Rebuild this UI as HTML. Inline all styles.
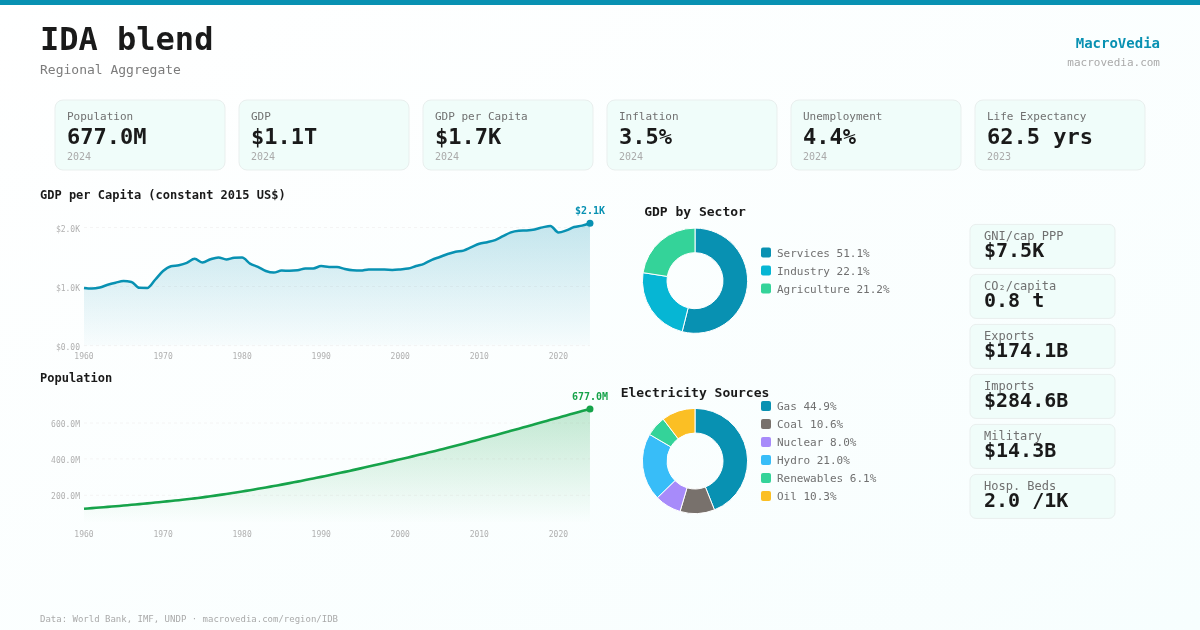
<!DOCTYPE html>
<html lang="en"><head><meta charset="utf-8"><title>IDA blend</title>
<style>
html,body{margin:0;padding:0;background:#fbfefe;}
body{width:1200px;height:630px;overflow:hidden;}
svg{display:block;font-family:"DejaVu Sans Mono", "Liberation Mono", monospace;}
.b{font-weight:700}
</style></head><body>
<svg width="1200" height="630" viewBox="0 0 1200 630">
<defs>
<linearGradient id="bg" x1="0" y1="0" x2="1" y2="1"><stop offset="0" stop-color="#ffffff"/><stop offset="1" stop-color="#f7fefe"/></linearGradient>
<linearGradient id="gb" x1="0" y1="0" x2="0" y2="1"><stop offset="0" stop-color="#0891b2" stop-opacity="0.23"/><stop offset="1" stop-color="#0891b2" stop-opacity="0.02"/></linearGradient>
<linearGradient id="gg" x1="0" y1="0" x2="0" y2="1"><stop offset="0" stop-color="#16a34a" stop-opacity="0.25"/><stop offset="1" stop-color="#16a34a" stop-opacity="0"/></linearGradient>
</defs>
<rect width="1200" height="630" fill="url(#bg)"/>
<rect width="1200" height="5" fill="#0891b2"/>
<text x="40" y="50" font-size="32" class="b" fill="#1a1a1a">IDA blend</text>
<text x="40" y="74" font-size="13" fill="#7b7b7b">Regional Aggregate</text>
<text x="1160" y="48" font-size="14" class="b" fill="#0891b2" text-anchor="end">MacroVedia</text>
<text x="1160" y="66" font-size="11" fill="#aaaaaa" text-anchor="end">macrovedia.com</text>

<rect x="55" y="100" width="170" height="70" rx="8" fill="#f0fdfa" stroke="#e9efee" stroke-width="1"/>
<text x="67" y="120" font-size="11" fill="#707070">Population</text>
<text x="67" y="144" font-size="22" class="b" fill="#1a1a1a">677.0M</text>
<text x="67" y="160" font-size="10" fill="#aaaaaa">2024</text>
<rect x="239" y="100" width="170" height="70" rx="8" fill="#f0fdfa" stroke="#e9efee" stroke-width="1"/>
<text x="251" y="120" font-size="11" fill="#707070">GDP</text>
<text x="251" y="144" font-size="22" class="b" fill="#1a1a1a">$1.1T</text>
<text x="251" y="160" font-size="10" fill="#aaaaaa">2024</text>
<rect x="423" y="100" width="170" height="70" rx="8" fill="#f0fdfa" stroke="#e9efee" stroke-width="1"/>
<text x="435" y="120" font-size="11" fill="#707070">GDP per Capita</text>
<text x="435" y="144" font-size="22" class="b" fill="#1a1a1a">$1.7K</text>
<text x="435" y="160" font-size="10" fill="#aaaaaa">2024</text>
<rect x="607" y="100" width="170" height="70" rx="8" fill="#f0fdfa" stroke="#e9efee" stroke-width="1"/>
<text x="619" y="120" font-size="11" fill="#707070">Inflation</text>
<text x="619" y="144" font-size="22" class="b" fill="#1a1a1a">3.5%</text>
<text x="619" y="160" font-size="10" fill="#aaaaaa">2024</text>
<rect x="791" y="100" width="170" height="70" rx="8" fill="#f0fdfa" stroke="#e9efee" stroke-width="1"/>
<text x="803" y="120" font-size="11" fill="#707070">Unemployment</text>
<text x="803" y="144" font-size="22" class="b" fill="#1a1a1a">4.4%</text>
<text x="803" y="160" font-size="10" fill="#aaaaaa">2024</text>
<rect x="975" y="100" width="170" height="70" rx="8" fill="#f0fdfa" stroke="#e9efee" stroke-width="1"/>
<text x="987" y="120" font-size="11" fill="#707070">Life Expectancy</text>
<text x="987" y="144" font-size="22" class="b" fill="#1a1a1a">62.5 yrs</text>
<text x="987" y="160" font-size="10" fill="#aaaaaa">2023</text>
<text x="40" y="199" font-size="12" class="b" fill="#1a1a1a">GDP per Capita (constant 2015 US$)</text>
<line x1="84" x2="590" y1="227.5" y2="227.5" stroke="#f4f4f4" stroke-width="1" stroke-dasharray="3,3"/>
<text x="80" y="231.6" font-size="8" fill="#b0b0b0" text-anchor="end">$2.0K</text>
<line x1="84" x2="590" y1="286.55" y2="286.55" stroke="#f4f4f4" stroke-width="1" stroke-dasharray="3,3"/>
<text x="80" y="290.7" font-size="8" fill="#b0b0b0" text-anchor="end">$1.0K</text>
<line x1="84" x2="590" y1="345.6" y2="345.6" stroke="#f4f4f4" stroke-width="1" stroke-dasharray="3,3"/>
<text x="80" y="349.7" font-size="8" fill="#b0b0b0" text-anchor="end">$0.00</text>
<text x="84.0" y="358.9" font-size="8" fill="#b0b0b0" text-anchor="middle">1960</text>
<text x="163.1" y="358.9" font-size="8" fill="#b0b0b0" text-anchor="middle">1970</text>
<text x="242.1" y="358.9" font-size="8" fill="#b0b0b0" text-anchor="middle">1980</text>
<text x="321.2" y="358.9" font-size="8" fill="#b0b0b0" text-anchor="middle">1990</text>
<text x="400.2" y="358.9" font-size="8" fill="#b0b0b0" text-anchor="middle">2000</text>
<text x="479.3" y="358.9" font-size="8" fill="#b0b0b0" text-anchor="middle">2010</text>
<text x="558.4" y="358.9" font-size="8" fill="#b0b0b0" text-anchor="middle">2020</text>
<path d="M84.00,287.90C86.64,288.23 89.27,288.55 91.91,288.55C94.54,288.55 97.18,288.13 99.81,287.50C102.45,286.87 105.08,285.55 107.72,284.75C110.35,283.95 112.99,283.31 115.62,282.70C118.26,282.09 120.89,281.10 123.53,281.10C126.17,281.10 128.80,281.37 131.44,281.90C134.07,282.43 136.71,287.75 139.34,287.85C141.98,287.95 144.61,288.00 147.25,288.00C149.88,288.00 152.52,282.58 155.15,279.75C157.79,276.92 160.42,273.26 163.06,271.00C165.70,268.74 168.33,266.87 170.97,266.20C173.60,265.53 176.24,265.75 178.87,265.20C181.51,264.65 184.14,263.97 186.78,262.90C189.41,261.83 192.05,258.80 194.68,258.80C197.32,258.80 199.95,262.50 202.59,262.50C205.23,262.50 207.86,260.05 210.50,259.20C213.13,258.35 215.77,257.40 218.40,257.40C221.04,257.40 223.67,259.50 226.31,259.50C228.94,259.50 231.58,257.93 234.21,257.80C236.85,257.67 239.48,257.60 242.12,257.60C244.76,257.60 247.39,262.05 250.03,263.60C252.66,265.15 255.30,265.67 257.93,266.90C260.57,268.13 263.20,270.05 265.84,271.00C268.47,271.95 271.11,272.60 273.74,272.60C276.38,272.60 279.01,270.60 281.65,270.60C284.29,270.60 286.92,270.70 289.56,270.70C292.19,270.70 294.83,270.57 297.46,270.30C300.10,270.03 302.73,268.57 305.37,268.50C308.00,268.43 310.64,268.47 313.27,268.40C315.91,268.33 318.54,266.10 321.18,266.10C323.82,266.10 326.45,266.90 329.09,266.90C331.72,266.90 334.36,266.90 336.99,266.90C339.63,266.90 342.26,268.43 344.90,269.00C347.53,269.57 350.17,270.10 352.80,270.30C355.44,270.50 358.07,270.60 360.71,270.60C363.35,270.60 365.98,269.40 368.62,269.40C371.25,269.40 373.89,269.60 376.52,269.60C379.16,269.60 381.79,269.60 384.43,269.60C387.06,269.60 389.70,269.90 392.33,269.90C394.97,269.90 397.60,269.62 400.24,269.40C402.88,269.18 405.51,269.13 408.15,268.60C410.78,268.07 413.42,266.80 416.05,266.00C418.69,265.20 421.32,264.83 423.96,263.80C426.59,262.77 429.23,260.93 431.86,259.80C434.50,258.67 437.13,257.97 439.77,257.00C442.41,256.03 445.04,254.88 447.68,254.00C450.31,253.12 452.95,252.27 455.58,251.70C458.22,251.13 460.85,251.33 463.49,250.60C466.12,249.87 468.76,248.33 471.39,247.20C474.03,246.07 476.66,244.63 479.30,243.80C481.94,242.97 484.57,242.82 487.21,242.20C489.84,241.58 492.48,241.10 495.11,240.10C497.75,239.10 500.38,237.48 503.02,236.20C505.65,234.92 508.29,233.30 510.92,232.40C513.56,231.50 516.19,231.07 518.83,230.80C521.47,230.53 524.10,230.63 526.74,230.40C529.37,230.17 532.01,229.90 534.64,229.40C537.28,228.90 539.91,227.98 542.55,227.40C545.18,226.82 547.82,225.90 550.45,225.90C553.09,225.90 555.72,232.40 558.36,232.40C561.00,232.40 563.63,231.30 566.27,230.40C568.90,229.50 571.54,227.80 574.17,227.00C576.81,226.20 579.44,226.23 582.08,225.60C584.71,224.97 587.35,224.08 589.98,223.20L589.98,345.6L84,345.6Z" fill="url(#gb)"/>
<path d="M84.00,287.90C86.64,288.23 89.27,288.55 91.91,288.55C94.54,288.55 97.18,288.13 99.81,287.50C102.45,286.87 105.08,285.55 107.72,284.75C110.35,283.95 112.99,283.31 115.62,282.70C118.26,282.09 120.89,281.10 123.53,281.10C126.17,281.10 128.80,281.37 131.44,281.90C134.07,282.43 136.71,287.75 139.34,287.85C141.98,287.95 144.61,288.00 147.25,288.00C149.88,288.00 152.52,282.58 155.15,279.75C157.79,276.92 160.42,273.26 163.06,271.00C165.70,268.74 168.33,266.87 170.97,266.20C173.60,265.53 176.24,265.75 178.87,265.20C181.51,264.65 184.14,263.97 186.78,262.90C189.41,261.83 192.05,258.80 194.68,258.80C197.32,258.80 199.95,262.50 202.59,262.50C205.23,262.50 207.86,260.05 210.50,259.20C213.13,258.35 215.77,257.40 218.40,257.40C221.04,257.40 223.67,259.50 226.31,259.50C228.94,259.50 231.58,257.93 234.21,257.80C236.85,257.67 239.48,257.60 242.12,257.60C244.76,257.60 247.39,262.05 250.03,263.60C252.66,265.15 255.30,265.67 257.93,266.90C260.57,268.13 263.20,270.05 265.84,271.00C268.47,271.95 271.11,272.60 273.74,272.60C276.38,272.60 279.01,270.60 281.65,270.60C284.29,270.60 286.92,270.70 289.56,270.70C292.19,270.70 294.83,270.57 297.46,270.30C300.10,270.03 302.73,268.57 305.37,268.50C308.00,268.43 310.64,268.47 313.27,268.40C315.91,268.33 318.54,266.10 321.18,266.10C323.82,266.10 326.45,266.90 329.09,266.90C331.72,266.90 334.36,266.90 336.99,266.90C339.63,266.90 342.26,268.43 344.90,269.00C347.53,269.57 350.17,270.10 352.80,270.30C355.44,270.50 358.07,270.60 360.71,270.60C363.35,270.60 365.98,269.40 368.62,269.40C371.25,269.40 373.89,269.60 376.52,269.60C379.16,269.60 381.79,269.60 384.43,269.60C387.06,269.60 389.70,269.90 392.33,269.90C394.97,269.90 397.60,269.62 400.24,269.40C402.88,269.18 405.51,269.13 408.15,268.60C410.78,268.07 413.42,266.80 416.05,266.00C418.69,265.20 421.32,264.83 423.96,263.80C426.59,262.77 429.23,260.93 431.86,259.80C434.50,258.67 437.13,257.97 439.77,257.00C442.41,256.03 445.04,254.88 447.68,254.00C450.31,253.12 452.95,252.27 455.58,251.70C458.22,251.13 460.85,251.33 463.49,250.60C466.12,249.87 468.76,248.33 471.39,247.20C474.03,246.07 476.66,244.63 479.30,243.80C481.94,242.97 484.57,242.82 487.21,242.20C489.84,241.58 492.48,241.10 495.11,240.10C497.75,239.10 500.38,237.48 503.02,236.20C505.65,234.92 508.29,233.30 510.92,232.40C513.56,231.50 516.19,231.07 518.83,230.80C521.47,230.53 524.10,230.63 526.74,230.40C529.37,230.17 532.01,229.90 534.64,229.40C537.28,228.90 539.91,227.98 542.55,227.40C545.18,226.82 547.82,225.90 550.45,225.90C553.09,225.90 555.72,232.40 558.36,232.40C561.00,232.40 563.63,231.30 566.27,230.40C568.90,229.50 571.54,227.80 574.17,227.00C576.81,226.20 579.44,226.23 582.08,225.60C584.71,224.97 587.35,224.08 589.98,223.20" fill="none" stroke="#0891b2" stroke-width="2.5" stroke-linejoin="round" stroke-linecap="butt"/>
<circle cx="589.98" cy="223.2" r="3.5" fill="#0891b2"/>
<text x="590" y="214.4" font-size="10" class="b" fill="#0891b2" text-anchor="middle">$2.1K</text>
<text x="40" y="382" font-size="12" class="b" fill="#1a1a1a">Population</text>
<line x1="84" x2="590" y1="423" y2="423" stroke="#f4f4f4" stroke-width="1" stroke-dasharray="3,3"/>
<text x="80" y="427.1" font-size="8" fill="#b0b0b0" text-anchor="end">600.0M</text>
<line x1="84" x2="590" y1="458.9" y2="458.9" stroke="#f4f4f4" stroke-width="1" stroke-dasharray="3,3"/>
<text x="80" y="463.0" font-size="8" fill="#b0b0b0" text-anchor="end">400.0M</text>
<line x1="84" x2="590" y1="495.3" y2="495.3" stroke="#f4f4f4" stroke-width="1" stroke-dasharray="3,3"/>
<text x="80" y="499.4" font-size="8" fill="#b0b0b0" text-anchor="end">200.0M</text>
<text x="84.0" y="536.8" font-size="8" fill="#b0b0b0" text-anchor="middle">1960</text>
<text x="163.1" y="536.8" font-size="8" fill="#b0b0b0" text-anchor="middle">1970</text>
<text x="242.1" y="536.8" font-size="8" fill="#b0b0b0" text-anchor="middle">1980</text>
<text x="321.2" y="536.8" font-size="8" fill="#b0b0b0" text-anchor="middle">1990</text>
<text x="400.2" y="536.8" font-size="8" fill="#b0b0b0" text-anchor="middle">2000</text>
<text x="479.3" y="536.8" font-size="8" fill="#b0b0b0" text-anchor="middle">2010</text>
<text x="558.4" y="536.8" font-size="8" fill="#b0b0b0" text-anchor="middle">2020</text>
<path d="M84.00,508.70C86.64,508.51 89.27,508.33 91.91,508.13C94.54,507.94 97.18,507.74 99.81,507.53C102.45,507.33 105.08,507.11 107.72,506.90C110.35,506.68 112.99,506.46 115.62,506.23C118.26,506.01 120.89,505.78 123.53,505.54C126.17,505.31 128.80,505.07 131.44,504.83C134.07,504.59 136.71,504.34 139.34,504.10C141.98,503.85 144.61,503.60 147.25,503.34C149.88,503.09 152.52,502.83 155.15,502.58C157.79,502.32 160.42,502.06 163.06,501.79C165.70,501.53 168.33,501.27 170.97,501.00C173.60,500.73 176.24,500.45 178.87,500.17C181.51,499.89 184.14,499.60 186.78,499.30C189.41,499.00 192.05,498.69 194.68,498.37C197.32,498.05 199.95,497.71 202.59,497.37C205.23,497.02 207.86,496.66 210.50,496.29C213.13,495.92 215.77,495.54 218.40,495.15C221.04,494.76 223.67,494.37 226.31,493.96C228.94,493.56 231.58,493.16 234.21,492.74C236.85,492.33 239.48,491.91 242.12,491.48C244.76,491.05 247.39,490.62 250.03,490.18C252.66,489.74 255.30,489.29 257.93,488.84C260.57,488.39 263.20,487.93 265.84,487.46C268.47,487.00 271.11,486.53 273.74,486.05C276.38,485.58 279.01,485.09 281.65,484.61C284.29,484.12 286.92,483.62 289.56,483.13C292.19,482.63 294.83,482.12 297.46,481.61C300.10,481.10 302.73,480.58 305.37,480.06C308.00,479.54 310.64,479.02 313.27,478.48C315.91,477.95 318.54,477.42 321.18,476.87C323.82,476.33 326.45,475.79 329.09,475.23C331.72,474.68 334.36,474.12 336.99,473.56C339.63,473.00 342.26,472.43 344.90,471.86C347.53,471.29 350.17,470.72 352.80,470.14C355.44,469.56 358.07,468.97 360.71,468.38C363.35,467.79 365.98,467.20 368.62,466.60C371.25,466.00 373.89,465.40 376.52,464.79C379.16,464.19 381.79,463.58 384.43,462.97C387.06,462.35 389.70,461.74 392.33,461.12C394.97,460.51 397.60,459.89 400.24,459.27C402.88,458.66 405.51,458.04 408.15,457.42C410.78,456.80 413.42,456.18 416.05,455.55C418.69,454.92 421.32,454.29 423.96,453.66C426.59,453.02 429.23,452.38 431.86,451.73C434.50,451.08 437.13,450.42 439.77,449.76C442.41,449.10 445.04,448.43 447.68,447.76C450.31,447.08 452.95,446.40 455.58,445.72C458.22,445.04 460.85,444.35 463.49,443.65C466.12,442.96 468.76,442.26 471.39,441.56C474.03,440.86 476.66,440.15 479.30,439.44C481.94,438.74 484.57,438.02 487.21,437.31C489.84,436.59 492.48,435.88 495.11,435.16C497.75,434.44 500.38,433.72 503.02,432.99C505.65,432.27 508.29,431.55 510.92,430.82C513.56,430.09 516.19,429.36 518.83,428.63C521.47,427.90 524.10,427.17 526.74,426.44C529.37,425.71 532.01,424.98 534.64,424.24C537.28,423.51 539.91,422.78 542.55,422.04C545.18,421.31 547.82,420.57 550.45,419.84C553.09,419.11 555.72,418.37 558.36,417.64C561.00,416.91 563.63,416.18 566.27,415.45C568.90,414.72 571.54,413.99 574.17,413.26C576.81,412.53 579.44,411.80 582.08,411.08C584.71,410.35 587.35,409.63 589.98,408.90L589.98,523.4L84,523.4Z" fill="url(#gg)"/>
<path d="M84.00,508.70C86.64,508.51 89.27,508.33 91.91,508.13C94.54,507.94 97.18,507.74 99.81,507.53C102.45,507.33 105.08,507.11 107.72,506.90C110.35,506.68 112.99,506.46 115.62,506.23C118.26,506.01 120.89,505.78 123.53,505.54C126.17,505.31 128.80,505.07 131.44,504.83C134.07,504.59 136.71,504.34 139.34,504.10C141.98,503.85 144.61,503.60 147.25,503.34C149.88,503.09 152.52,502.83 155.15,502.58C157.79,502.32 160.42,502.06 163.06,501.79C165.70,501.53 168.33,501.27 170.97,501.00C173.60,500.73 176.24,500.45 178.87,500.17C181.51,499.89 184.14,499.60 186.78,499.30C189.41,499.00 192.05,498.69 194.68,498.37C197.32,498.05 199.95,497.71 202.59,497.37C205.23,497.02 207.86,496.66 210.50,496.29C213.13,495.92 215.77,495.54 218.40,495.15C221.04,494.76 223.67,494.37 226.31,493.96C228.94,493.56 231.58,493.16 234.21,492.74C236.85,492.33 239.48,491.91 242.12,491.48C244.76,491.05 247.39,490.62 250.03,490.18C252.66,489.74 255.30,489.29 257.93,488.84C260.57,488.39 263.20,487.93 265.84,487.46C268.47,487.00 271.11,486.53 273.74,486.05C276.38,485.58 279.01,485.09 281.65,484.61C284.29,484.12 286.92,483.62 289.56,483.13C292.19,482.63 294.83,482.12 297.46,481.61C300.10,481.10 302.73,480.58 305.37,480.06C308.00,479.54 310.64,479.02 313.27,478.48C315.91,477.95 318.54,477.42 321.18,476.87C323.82,476.33 326.45,475.79 329.09,475.23C331.72,474.68 334.36,474.12 336.99,473.56C339.63,473.00 342.26,472.43 344.90,471.86C347.53,471.29 350.17,470.72 352.80,470.14C355.44,469.56 358.07,468.97 360.71,468.38C363.35,467.79 365.98,467.20 368.62,466.60C371.25,466.00 373.89,465.40 376.52,464.79C379.16,464.19 381.79,463.58 384.43,462.97C387.06,462.35 389.70,461.74 392.33,461.12C394.97,460.51 397.60,459.89 400.24,459.27C402.88,458.66 405.51,458.04 408.15,457.42C410.78,456.80 413.42,456.18 416.05,455.55C418.69,454.92 421.32,454.29 423.96,453.66C426.59,453.02 429.23,452.38 431.86,451.73C434.50,451.08 437.13,450.42 439.77,449.76C442.41,449.10 445.04,448.43 447.68,447.76C450.31,447.08 452.95,446.40 455.58,445.72C458.22,445.04 460.85,444.35 463.49,443.65C466.12,442.96 468.76,442.26 471.39,441.56C474.03,440.86 476.66,440.15 479.30,439.44C481.94,438.74 484.57,438.02 487.21,437.31C489.84,436.59 492.48,435.88 495.11,435.16C497.75,434.44 500.38,433.72 503.02,432.99C505.65,432.27 508.29,431.55 510.92,430.82C513.56,430.09 516.19,429.36 518.83,428.63C521.47,427.90 524.10,427.17 526.74,426.44C529.37,425.71 532.01,424.98 534.64,424.24C537.28,423.51 539.91,422.78 542.55,422.04C545.18,421.31 547.82,420.57 550.45,419.84C553.09,419.11 555.72,418.37 558.36,417.64C561.00,416.91 563.63,416.18 566.27,415.45C568.90,414.72 571.54,413.99 574.17,413.26C576.81,412.53 579.44,411.80 582.08,411.08C584.71,410.35 587.35,409.63 589.98,408.90" fill="none" stroke="#16a34a" stroke-width="2.6" stroke-linejoin="round" stroke-linecap="butt"/>
<circle cx="589.98" cy="408.90" r="3.5" fill="#16a34a"/>
<text x="590" y="400" font-size="10" class="b" fill="#16a34a" text-anchor="middle">677.0M</text>
<text x="695" y="216" font-size="13" class="b" fill="#1a1a1a" text-anchor="middle">GDP by Sector</text>
<path d="M695.00,228.10A52.6,52.6 0 1 1 682.13,331.70L688.15,307.85A28.0,28.0 0 1 0 695.00,252.70Z" fill="#0891b2" stroke="#ffffff" stroke-width="1"/>
<path d="M682.13,331.70A52.6,52.6 0 0 1 643.02,272.67L667.33,276.43A28.0,28.0 0 0 0 688.15,307.85Z" fill="#06b6d4" stroke="#ffffff" stroke-width="1"/>
<path d="M643.02,272.67A52.6,52.6 0 0 1 695.00,228.10L695.00,252.70A28.0,28.0 0 0 0 667.33,276.43Z" fill="#34d399" stroke="#ffffff" stroke-width="1"/>
<rect x="761" y="247.6" width="10" height="10" rx="2" fill="#0891b2"/>
<text x="777" y="256.7" font-size="11" fill="#707070">Services 51.1%</text>
<rect x="761" y="265.6" width="10" height="10" rx="2" fill="#06b6d4"/>
<text x="777" y="274.7" font-size="11" fill="#707070">Industry 22.1%</text>
<rect x="761" y="283.6" width="10" height="10" rx="2" fill="#34d399"/>
<text x="777" y="292.7" font-size="11" fill="#707070">Agriculture 21.2%</text>
<text x="695" y="396.5" font-size="13" class="b" fill="#1a1a1a" text-anchor="middle">Electricity Sources</text>
<path d="M695.00,408.40A52.6,52.6 0 0 1 714.46,509.87L705.36,487.01A28.0,28.0 0 0 0 695.00,433.00Z" fill="#0891b2" stroke="#ffffff" stroke-width="1"/>
<path d="M714.46,509.87A52.6,52.6 0 0 1 680.04,511.43L687.03,487.84A28.0,28.0 0 0 0 705.36,487.01Z" fill="#78716c" stroke="#ffffff" stroke-width="1"/>
<path d="M680.04,511.43A52.6,52.6 0 0 1 657.37,497.76L674.97,480.57A28.0,28.0 0 0 0 687.03,487.84Z" fill="#a78bfa" stroke="#ffffff" stroke-width="1"/>
<path d="M657.37,497.76A52.6,52.6 0 0 1 649.59,434.45L670.83,446.87A28.0,28.0 0 0 0 674.97,480.57Z" fill="#38bdf8" stroke="#ffffff" stroke-width="1"/>
<path d="M649.59,434.45A52.6,52.6 0 0 1 663.20,419.10L678.07,438.70A28.0,28.0 0 0 0 670.83,446.87Z" fill="#34d399" stroke="#ffffff" stroke-width="1"/>
<path d="M663.20,419.10A52.6,52.6 0 0 1 695.00,408.40L695.00,433.00A28.0,28.0 0 0 0 678.07,438.70Z" fill="#fbbf24" stroke="#ffffff" stroke-width="1"/>
<rect x="761" y="401.0" width="10" height="10" rx="2" fill="#0891b2"/>
<text x="777" y="410.1" font-size="11" fill="#707070">Gas 44.9%</text>
<rect x="761" y="419.0" width="10" height="10" rx="2" fill="#78716c"/>
<text x="777" y="428.1" font-size="11" fill="#707070">Coal 10.6%</text>
<rect x="761" y="437.0" width="10" height="10" rx="2" fill="#a78bfa"/>
<text x="777" y="446.1" font-size="11" fill="#707070">Nuclear 8.0%</text>
<rect x="761" y="455.0" width="10" height="10" rx="2" fill="#38bdf8"/>
<text x="777" y="464.1" font-size="11" fill="#707070">Hydro 21.0%</text>
<rect x="761" y="473.0" width="10" height="10" rx="2" fill="#34d399"/>
<text x="777" y="482.1" font-size="11" fill="#707070">Renewables 6.1%</text>
<rect x="761" y="491.0" width="10" height="10" rx="2" fill="#fbbf24"/>
<text x="777" y="500.1" font-size="11" fill="#707070">Oil 10.3%</text>
<rect x="970" y="224.4" width="145" height="44" rx="6" fill="#f0fdfa" stroke="#e9efee" stroke-width="1"/>
<text x="984" y="239.5" font-size="12" fill="#707070">GNI/cap PPP</text>
<text x="984" y="257.2" font-size="20" class="b" fill="#1a1a1a">$7.5K</text>
<rect x="970" y="274.4" width="145" height="44" rx="6" fill="#f0fdfa" stroke="#e9efee" stroke-width="1"/>
<text x="984" y="289.5" font-size="12" fill="#707070">CO₂/capita</text>
<text x="984" y="307.2" font-size="20" class="b" fill="#1a1a1a">0.8 t</text>
<rect x="970" y="324.4" width="145" height="44" rx="6" fill="#f0fdfa" stroke="#e9efee" stroke-width="1"/>
<text x="984" y="339.5" font-size="12" fill="#707070">Exports</text>
<text x="984" y="357.2" font-size="20" class="b" fill="#1a1a1a">$174.1B</text>
<rect x="970" y="374.4" width="145" height="44" rx="6" fill="#f0fdfa" stroke="#e9efee" stroke-width="1"/>
<text x="984" y="389.5" font-size="12" fill="#707070">Imports</text>
<text x="984" y="407.2" font-size="20" class="b" fill="#1a1a1a">$284.6B</text>
<rect x="970" y="424.4" width="145" height="44" rx="6" fill="#f0fdfa" stroke="#e9efee" stroke-width="1"/>
<text x="984" y="439.5" font-size="12" fill="#707070">Military</text>
<text x="984" y="457.2" font-size="20" class="b" fill="#1a1a1a">$14.3B</text>
<rect x="970" y="474.4" width="145" height="44" rx="6" fill="#f0fdfa" stroke="#e9efee" stroke-width="1"/>
<text x="984" y="489.5" font-size="12" fill="#707070">Hosp. Beds</text>
<text x="984" y="507.2" font-size="20" class="b" fill="#1a1a1a">2.0 /1K</text>
<text x="40" y="622" font-size="9" fill="#aaaaaa">Data: World Bank, IMF, UNDP · macrovedia.com/region/IDB</text>
</svg></body></html>
